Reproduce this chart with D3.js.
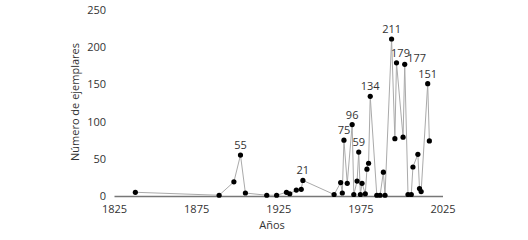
<!DOCTYPE html>
<html>
<head>
<meta charset="utf-8">
<script src="https://d3js.org/d3.v7.min.js"></script>
<style>
  body { margin: 0; background: #fff; }
  text { font-family: "Open Sans", "Noto Sans", sans-serif; fill: #333; }
</style>
</head>
<body>
<svg id="chart" width="528" height="240"></svg>
<script>
const years = [1838, 1889, 1898, 1902, 1905, 1918, 1924, 1930, 1932, 1936, 1939, 1940,
  1959, 1963, 1964, 1965, 1967, 1970, 1971, 1973, 1974, 1975, 1976, 1978, 1979, 1980, 1981,
  1985, 1987, 1989, 1990, 1994, 1996, 1997, 2001, 2002, 2004, 2006, 2007, 2010, 2011, 2012,
  2016, 2017];
const counts = [5, 1, 19, 55, 4, 1, 1, 5, 3, 8, 9, 21,
  2, 18, 4, 75, 17, 96, 2, 20, 59, 2, 17, 3, 36, 44, 134,
  1, 1, 32, 1, 211, 77, 179, 79, 177, 2, 2, 39, 56, 10, 6,
  151, 74];
const labelled = [55, 21, 75, 96, 59, 134, 211, 179, 177, 151];
const xTicks = [1825, 1875, 1925, 1975, 2025];
const yTicks = [0, 50, 100, 150, 200, 250];

const data = years.map((y, i) => ({ year: y, n: counts[i] }));

const svg = d3.select("#chart");

const x = d3.scaleLinear().domain([1825, 2025]).range([114, 442.5]);
const y = d3.scaleLinear().domain([0, 250]).range([196, 10]);

// x axis
const xAxis = svg.append("g").attr("transform", "translate(0,196)")
  .call(d3.axisBottom(x).tickValues(xTicks).tickFormat(d3.format("d")).tickSize(0).tickPadding(9));
xAxis.select(".domain").attr("stroke", "#777").attr("stroke-width", 1.5);
xAxis.selectAll("text").attr("font-size", 11).style("fill", "#333");

// y axis (labels only)
const yAxis = svg.append("g").attr("transform", "translate(106,0)")
  .call(d3.axisLeft(y).tickValues(yTicks).tickSize(0).tickPadding(0));
yAxis.select(".domain").remove();
yAxis.selectAll("text").attr("font-size", 11).style("fill", "#333");

// titles
svg.append("text").attr("x", 272).attr("y", 229).attr("text-anchor", "middle")
  .attr("font-size", 11).text("Años");
svg.append("text").attr("transform", "translate(79,102) rotate(-90)")
  .attr("text-anchor", "middle").attr("font-size", 11).text("Número de ejemplares");

// line
svg.append("path").datum(data)
  .attr("fill", "none").attr("stroke", "#aaa").attr("stroke-width", 1)
  .attr("d", d3.line().x(d => x(d.year)).y(d => y(d.n)));

// dots
svg.selectAll("circle").data(data).enter().append("circle")
  .attr("cx", d => x(d.year)).attr("cy", d => y(d.n)).attr("r", 2.6).attr("fill", "#000");

// value labels
const shift = { 179: [4, 0], 177: [12, 4] };
svg.selectAll(".lbl").data(data.filter(d => labelled.includes(d.n))).enter().append("text")
  .attr("class", "lbl")
  .attr("x", d => x(d.year) + (shift[d.n] ? shift[d.n][0] : 0))
  .attr("y", d => y(d.n) - 6 + (shift[d.n] ? shift[d.n][1] : 0))
  .attr("text-anchor", "middle").attr("font-size", 11)
  .text(d => d.n);
</script>
</body>
</html>
